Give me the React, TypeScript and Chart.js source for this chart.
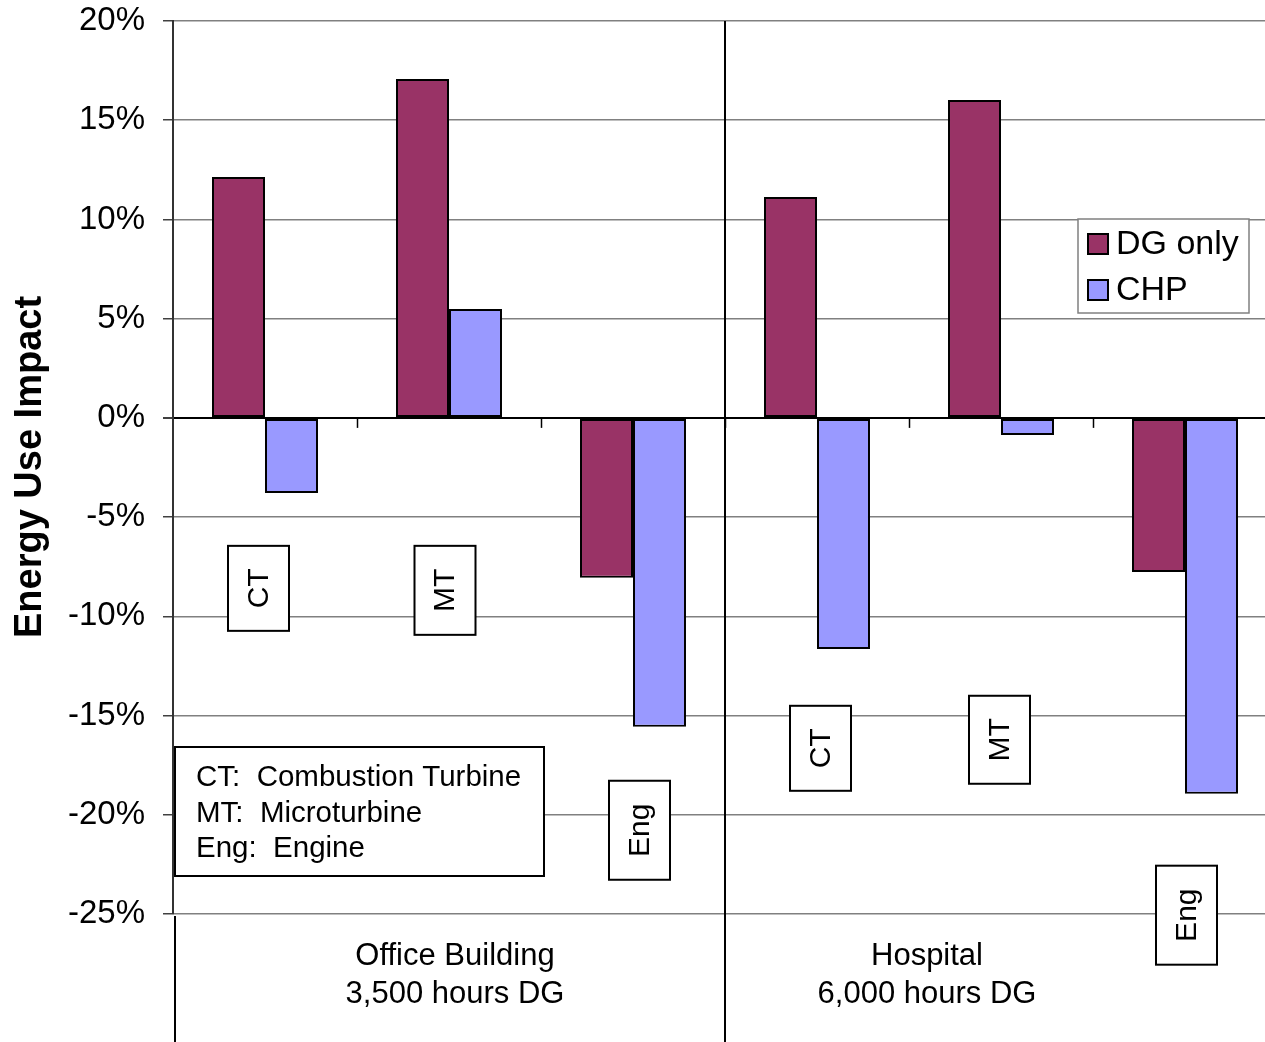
import React, { useEffect, useRef } from "react";
import { Chart, registerables } from "chart.js";

Chart.register(...registerables);

// ---- data ----
const categories = ["Office CT", "Office MT", "Office Eng", "Hospital CT", "Hospital MT", "Hospital Eng"];
const seriesNames = ["DG only", "CHP"];
const dgOnly = [12.14, 17.08, -8.06, 11.13, 16.02, -7.76];
const chp = [-3.78, 5.49, -15.57, -11.64, -0.86, -18.94];
const yMin = -25;
const yMax = 20;
const yStep = 5;
const techLabels = ["CT", "MT", "Eng", "CT", "MT", "Eng"];
const techLabelValues = [-8.59, -8.69, -20.78, -16.65, -16.22, -25.06];
const groupLabels = [
  ["Office Building", "3,500 hours DG"],
  ["Hospital", "6,000 hours DG"],
];
const definitions = ["CT:  Combustion Turbine", "MT:  Microturbine", "Eng:  Engine"];
const yTitle = "Energy Use Impact";

// ---- layout / style ----
const FONT = "'Liberation Sans', Arial, Helvetica, sans-serif";
const DG_COLOR = "#993366";
const CHP_COLOR = "#9999FF";
const techBoxDx = [-6.5, -4, 6.5, 3.5, -1.5, 1.5];
const techBoxH = [85, 89, 99, 85, 88, 99];
const techBoxW = 61;
const groupLabelX = [455, 927];

const overlay = {
  id: "overlay",
  afterDraw(chart: any) {
    const { ctx, chartArea, scales } = chart;
    const xs = scales.x;
    const ys = scales.y;
    const y0 = ys.getPixelForValue(0);
    const half = (xs.getPixelForValue(1) - xs.getPixelForValue(0)) / 2;
    ctx.save();

    // category tick marks below zero line
    ctx.strokeStyle = "#000";
    ctx.lineWidth = 1.5;
    for (let i = 1; i < categories.length; i++) {
      const bx = Math.round(xs.getPixelForValue(i) - half) + 0.5;
      ctx.beginPath();
      ctx.moveTo(bx, y0);
      ctx.lineTo(bx, y0 + 10);
      ctx.stroke();
    }

    // group separator
    ctx.lineWidth = 2;
    const sx = Math.round(xs.getPixelForValue(3) - half);
    ctx.beginPath();
    ctx.moveTo(sx, chartArea.top);
    ctx.lineTo(sx, chart.height);
    ctx.stroke();
    // left separator below the plot
    ctx.beginPath();
    ctx.moveTo(chartArea.left + 2, chartArea.bottom + 2);
    ctx.lineTo(chartArea.left + 2, chart.height);
    ctx.stroke();

    // group labels
    ctx.fillStyle = "#000";
    ctx.font = `31px ${FONT}`;
    ctx.textAlign = "center";
    ctx.textBaseline = "middle";
    groupLabels.forEach((lines, g) => {
      lines.forEach((t, k) => {
        ctx.fillText(t, groupLabelX[g], chartArea.bottom + 42 + k * 38);
      });
    });

    // technology boxes
    ctx.font = `30px ${FONT}`;
    techLabels.forEach((t, i) => {
      const cx = xs.getPixelForValue(i) + techBoxDx[i];
      const cy = ys.getPixelForValue(techLabelValues[i]);
      const w = techBoxW;
      const h = techBoxH[i];
      ctx.fillStyle = "#fff";
      ctx.fillRect(cx - w / 2, cy - h / 2, w, h);
      ctx.strokeStyle = "#000";
      ctx.lineWidth = 2;
      ctx.strokeRect(cx - w / 2, cy - h / 2, w, h);
      ctx.save();
      ctx.translate(cx + 1, cy);
      ctx.rotate(-Math.PI / 2);
      ctx.fillStyle = "#000";
      ctx.textAlign = "center";
      ctx.textBaseline = "middle";
      ctx.fillText(t, 0, 0);
      ctx.restore();
    });

    // definitions box
    ctx.fillStyle = "#fff";
    ctx.fillRect(175, 747, 369, 129);
    ctx.strokeStyle = "#000";
    ctx.lineWidth = 2;
    ctx.strokeRect(175, 747, 369, 129);
    ctx.fillStyle = "#000";
    ctx.textAlign = "left";
    ctx.textBaseline = "middle";
    ctx.font = `29.5px ${FONT}`;
    definitions.forEach((t, k) => ctx.fillText(t, 196, 778 + k * 35.5));

    // legend
    ctx.fillStyle = "#fff";
    ctx.fillRect(1078, 219, 171, 94);
    ctx.strokeStyle = "#808080";
    ctx.lineWidth = 1.5;
    ctx.strokeRect(1078, 219, 171, 94);
    const colors = [DG_COLOR, CHP_COLOR];
    ctx.font = `34px ${FONT}`;
    seriesNames.forEach((n, k) => {
      const sy = 234 + k * 46;
      ctx.fillStyle = colors[k];
      ctx.fillRect(1088, sy, 20, 20);
      ctx.strokeStyle = "#000";
      ctx.lineWidth = 2;
      ctx.strokeRect(1088, sy, 20, 20);
      ctx.fillStyle = "#000";
      ctx.textAlign = "left";
      ctx.textBaseline = "middle";
      ctx.fillText(n, 1116, sy + 11);
    });

    // y title
    ctx.save();
    ctx.translate(41, 467);
    ctx.rotate(-Math.PI / 2);
    ctx.font = `bold 38px ${FONT}`;
    ctx.fillStyle = "#000";
    ctx.textAlign = "center";
    ctx.textBaseline = "alphabetic";
    ctx.fillText(yTitle, 0, 0);
    ctx.restore();

    ctx.restore();
  },
};

export default function App() {
  const ref = useRef<HTMLCanvasElement | null>(null);
  useEffect(() => {
    if (!ref.current) return;
    const chart = new Chart(ref.current, {
      type: "bar",
      data: {
        labels: categories,
        datasets: [
          {
            label: seriesNames[0],
            data: dgOnly,
            backgroundColor: DG_COLOR,
            borderColor: "#000",
            borderWidth: 2,
            borderSkipped: false,
            categoryPercentage: 0.576,
            barPercentage: 1,
          },
          {
            label: seriesNames[1],
            data: chp,
            backgroundColor: CHP_COLOR,
            borderColor: "#000",
            borderWidth: 2,
            borderSkipped: false,
            categoryPercentage: 0.576,
            barPercentage: 1,
          },
        ],
      },
      options: {
        responsive: false,
        devicePixelRatio: 1,
        animation: false,
        layout: { padding: { top: 21, bottom: 128, left: 0, right: 0 } },
        plugins: {
          legend: { display: false },
          title: { display: false },
          tooltip: { enabled: false },
        },
        scales: {
          x: { display: false },
          y: {
            min: yMin,
            max: yMax,
            ticks: {
              stepSize: yStep,
              padding: 18,
              color: "#000",
              font: { family: FONT, size: 33 },
              callback: (v: any) => `${v}%`,
            },
            grid: {
              color: (c: any) => (c.tick && c.tick.value === 0 ? "#000" : "#808080"),
              lineWidth: (c: any) => (c.tick && c.tick.value === 0 ? 2 : 1.5),
              tickLength: 10,
              tickColor: "#404040",
            },
            border: { display: true, color: "#333", width: 2 },
            afterFit: (s: any) => {
              s.width = 173;
              s.paddingTop = 0;
              s.paddingBottom = 0;
            },
          },
        },
      },
      plugins: [overlay],
    });
    return () => chart.destroy();
  }, []);
  return (
    <div
      style={{
        position: "fixed",
        left: 0,
        top: 0,
        width: 1265,
        height: 1042,
        overflow: "hidden",
        background: "#fff",
      }}
    >
      <canvas ref={ref} width={1277} height={1042} style={{ display: "block" }} />
    </div>
  );
}
